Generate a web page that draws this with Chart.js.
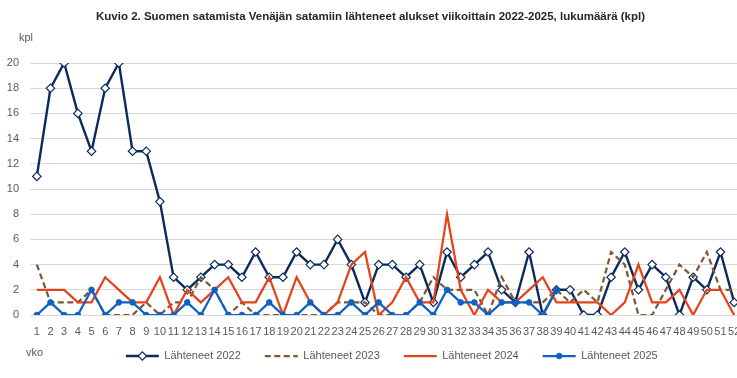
<!DOCTYPE html>
<html>
<head>
<meta charset="utf-8">
<script src="https://cdn.jsdelivr.net/npm/chart.js@4/dist/chart.umd.min.js"></script>
<style>
  body { margin: 0; background: #fff; }
  #wrap { position: relative; width: 737px; height: 378px; overflow: hidden; }
  .lbl { position: absolute; font: 11px "Liberation Sans", Arial, sans-serif; color: #595959; line-height: 13px; }
</style>
</head>
<body>
<div id="wrap">
  <canvas id="grafico" width="760" height="378"></canvas>
  <span class="lbl" style="left:19px; top:31px">kpl</span>
  <span class="lbl" style="left:26px; top:346px">vko</span>
</div>
<script>
// viikot 1-52
const viikot = ['1','2','3','4','5','6','7','8','9','10','11','12','13','14','15','16','17','18','19','20',
  '21','22','23','24','25','26','27','28','29','30','31','32','33','34','35','36','37','38','39','40',
  '41','42','43','44','45','46','47','48','49','50','51','52'];

const lahteneet2022 = [11,18,20,16,13,18,20,13,13,9, 3,2,3,4,4,3,5,3,3,5, 4,4,6,4,1,4,4,3,4,1,
  5,3,4,5,2,1,5,0,2,2, 0,0,3,5,2,4,3,0,3,2, 5,1];
const lahteneet2023 = [4,1,1,1,2,0,0,0,1,0, 1,1,3,2,0,1,0,0,0,0, 0,0,1,1,1,0,0,0,1,3,
  2,2,2,0,3,1,1,1,2,1, 2,1,5,4,0,0,2,4,3,5, 2,2];
const lahteneet2024 = [2,2,2,1,1,3,2,1,1,3, 0,2,1,2,3,1,1,3,0,3, 1,0,1,4,5,0,1,3,1,1,
  8,2,0,2,1,1,2,3,1,1, 1,1,0,1,4,1,1,2,0,2, 2,0];
// 2025 vain viikkoon 39 asti
const lahteneet2025 = [0,1,0,0,2,0,1,1,0,0, 0,1,0,2,0,0,0,1,0,0, 1,0,0,1,0,1,0,0,1,0,
  2,1,1,0,1,1,1,0,2];

const harmaa = '#595959';
const fontti = '"Liberation Sans", Arial, sans-serif';
const viivanPituus = 33; // legendan viivan pituus

// piirretään legendan viivat ja merkit itse (katkoviiva + merkki keskellä)
const legendaMerkit = {
  id: 'legendaMerkit',
  afterDraw(chart) {
    const legend = chart.legend;
    if (!legend || !legend.legendHitBoxes) return;
    const ctx = chart.ctx;
    const bw = legend.options.labels.boxWidth;
    const fs = legend.options.labels.font.size;
    legend.legendItems.forEach((item, i) => {
      const ds = chart.data.datasets[item.datasetIndex];
      const box = legend.legendHitBoxes[i];
      const y = box.top + fs / 2;
      const x0 = box.left + bw - viivanPituus;
      ctx.save();
      ctx.strokeStyle = ds.borderColor;
      ctx.lineWidth = ds.borderWidth;
      ctx.setLineDash(ds.borderDash || []);
      ctx.beginPath();
      ctx.moveTo(x0, y);
      ctx.lineTo(x0 + viivanPituus, y);
      ctx.stroke();
      ctx.setLineDash([]);
      const x = x0 + viivanPituus / 2;
      const r = ds.pointRadius;
      if (r > 0) {
        ctx.fillStyle = ds.pointBackgroundColor;
        ctx.strokeStyle = ds.pointBorderColor;
        ctx.lineWidth = ds.pointBorderWidth;
        ctx.beginPath();
        if (ds.pointStyle === 'rectRot') {
          ctx.moveTo(x, y - r);
          ctx.lineTo(x + r, y);
          ctx.lineTo(x, y + r);
          ctx.lineTo(x - r, y);
          ctx.closePath();
        } else {
          ctx.arc(x, y, r, 0, Math.PI * 2);
        }
        ctx.fill();
        ctx.stroke();
      }
      ctx.restore();
    });
  }
};

const data = {
  labels: viikot,
  datasets: [
    {
      label: 'Lähteneet 2022',
      data: lahteneet2022,
      borderColor: '#0b2c5b',
      borderWidth: 2.4,
      pointStyle: 'rectRot',
      pointRadius: 4.2,
      pointBackgroundColor: '#ffffff',
      pointBorderColor: '#0b2c5b',
      pointBorderWidth: 1.2,
      order: 4
    },
    {
      label: 'Lähteneet 2023',
      data: lahteneet2023,
      borderColor: '#7b5a36',
      borderWidth: 2.25,
      borderDash: [6, 3.5],
      pointRadius: 0,
      order: 3
    },
    {
      label: 'Lähteneet 2024',
      data: lahteneet2024,
      borderColor: '#e6431b',
      borderWidth: 2.25,
      pointRadius: 0,
      order: 2
    },
    {
      label: 'Lähteneet 2025',
      data: lahteneet2025,
      borderColor: '#0d62c4',
      borderWidth: 2.25,
      pointStyle: 'circle',
      pointRadius: 2.8,
      pointBackgroundColor: '#0d62c4',
      pointBorderColor: '#0d62c4',
      pointBorderWidth: 1,
      order: 1
    }
  ]
};

const options = {
  responsive: false,
  animation: false,
  layout: {
    padding: { left: 0, right: 19, top: 0, bottom: 6.5 }
  },
  elements: {
    line: { tension: 0 }
  },
  scales: {
    x: {
      type: 'category',
      offset: true,
      grid: { display: false, drawTicks: false },
      border: { display: false },
      ticks: {
        color: harmaa,
        font: { family: fontti, size: 11 },
        padding: 10,
        autoSkip: false,
        maxRotation: 0,
        minRotation: 0
      },
      afterFit(scale) { scale.height = 24; }
    },
    y: {
      min: 0,
      max: 20,
      grid: { color: '#d9d9d9', lineWidth: 1, drawTicks: false },
      border: { display: false },
      ticks: {
        stepSize: 2,
        color: harmaa,
        font: { family: fontti, size: 11 },
        padding: 11
      },
      afterFit(scale) { scale.width = 30; }
    }
  },
  plugins: {
    tooltip: { enabled: false },
    title: {
      display: true,
      text: 'Kuvio 2. Suomen satamista Venäjän satamiin lähteneet alukset viikoittain 2022-2025, lukumäärä (kpl)',
      color: '#262626',
      font: { family: fontti, size: 11.5, weight: 'bold' },
      padding: { top: 10, bottom: 39.2 }
    },
    legend: {
      position: 'bottom',
      fullSize: false,
      labels: {
        color: harmaa,
        font: { family: fontti, size: 11 },
        boxWidth: viivanPituus + 12.5,
        boxHeight: 2,
        padding: 11.5,
        sort: (a, b) => a.datasetIndex - b.datasetIndex,
        generateLabels(chart) {
          const items = Chart.defaults.plugins.legend.labels.generateLabels(chart);
          items.forEach(it => {
            it.fillStyle = 'rgba(0,0,0,0)';
            it.strokeStyle = 'rgba(0,0,0,0)';
            it.lineWidth = 0;
          });
          return items;
        }
      }
    }
  }
};

const ctx = document.getElementById('grafico').getContext('2d');
const kaavio = new Chart(ctx, {
  type: 'line',
  data: data,
  options: options,
  plugins: [legendaMerkit]
});
</script>
</body>
</html>
